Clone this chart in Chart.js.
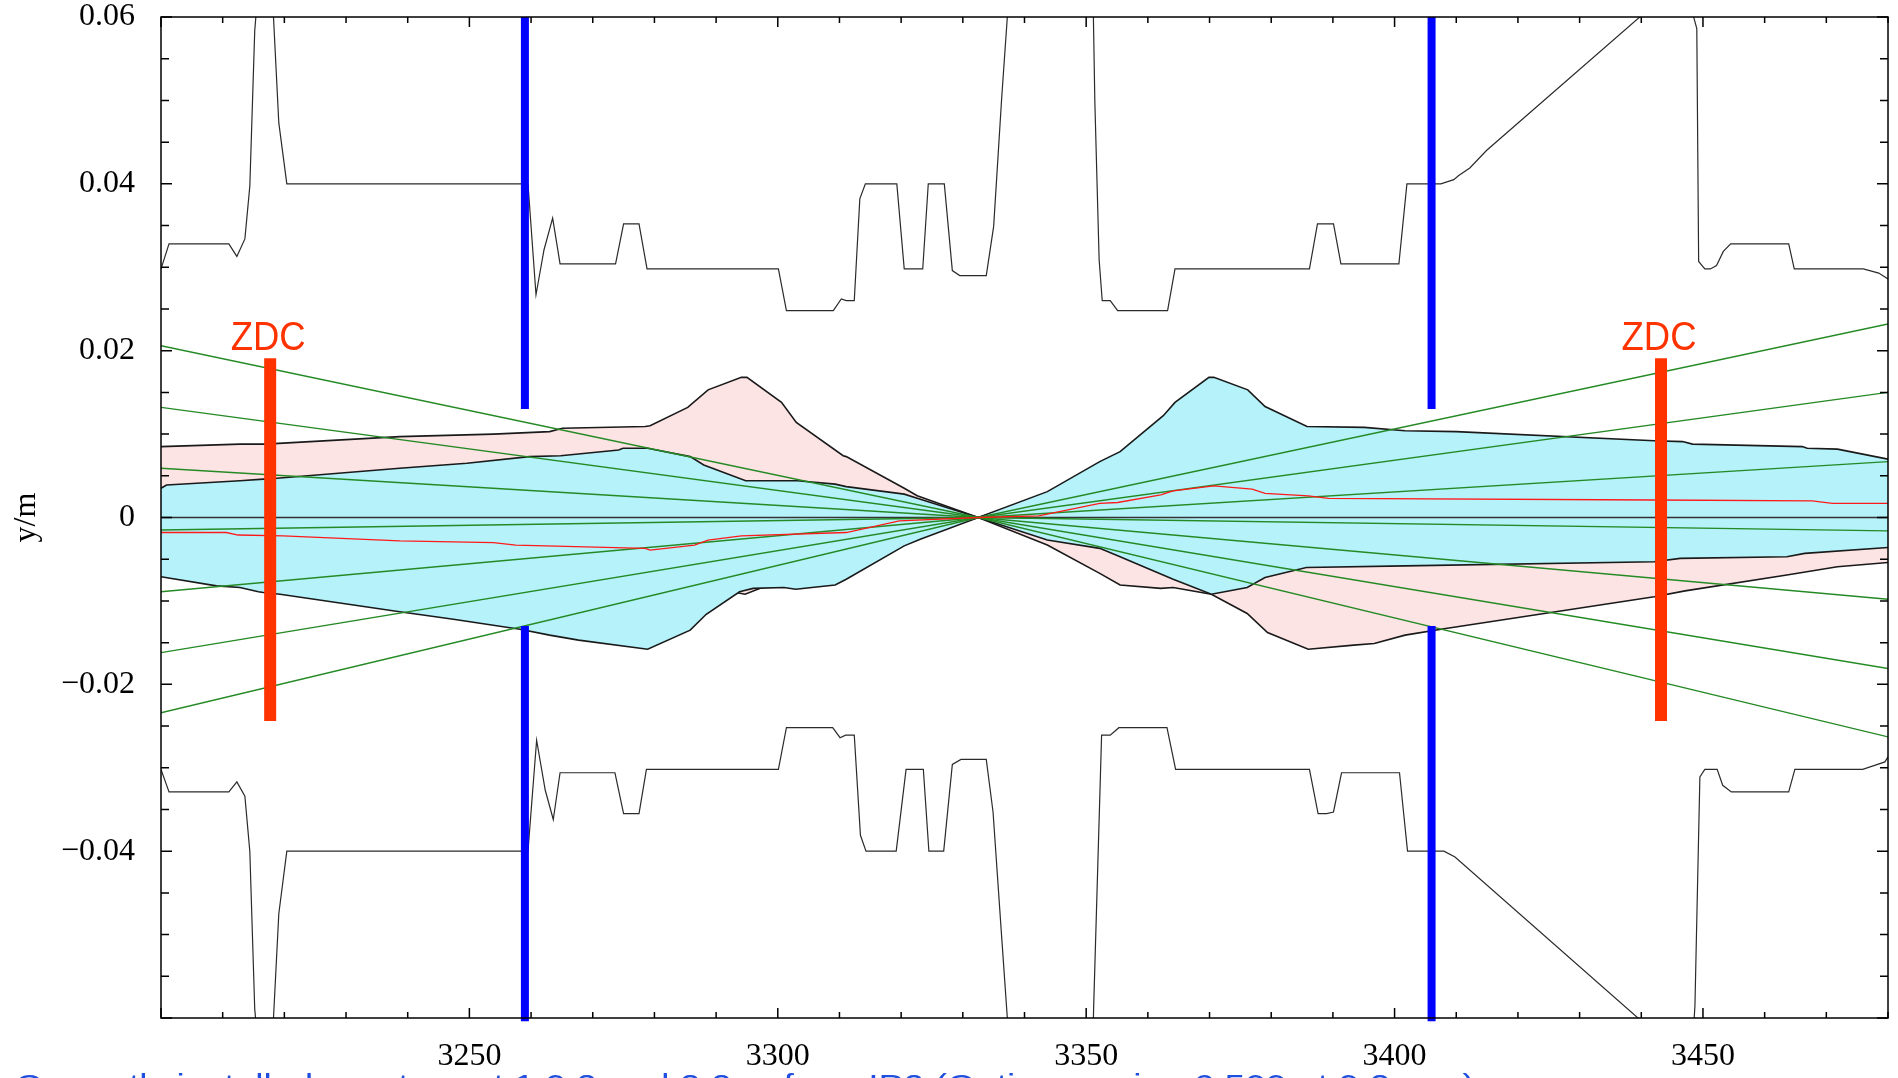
<!DOCTYPE html>
<html>
<head>
<meta charset="utf-8">
<title>IR2 vertical aperture</title>
<script src="https://cdn.jsdelivr.net/npm/chart.js@4.4.1/dist/chart.umd.min.js"></script>
<style>
    html, body { margin: 0; padding: 0; background: #fff; }
    #wrap { width: 1898px; height: 1078px; }
</style>
</head>
<body>
<div id="wrap"><canvas id="apertureChart" width="1898" height="1078"></canvas></div>
<script>
// s (m) along the ring vs vertical position y (m)
const sRange = [3200, 3480];
const yRange = [-0.06, 0.06];
const ipS = 3332.5;

const xTickLabels = [3250, 3300, 3350, 3400, 3450];
const yTickLabels = [0.06, 0.04, 0.02, 0, -0.02, -0.04];

// mechanical aperture [s, y]
const apertureUpper = [
    [3200.0, 0.0298], [3201.3, 0.0328], [3211.0, 0.0328], [3212.3, 0.0313], [3213.6, 0.0334],
    [3214.4, 0.0397], [3215.2, 0.0584], [3215.6, 0.0620], [3218.1, 0.0620], [3219.1, 0.0473],
    [3220.4, 0.0400], [3259.5, 0.0400], [3260.8, 0.0267], [3262.1, 0.0321], [3263.5, 0.0359],
    [3264.7, 0.0304], [3273.7, 0.0304], [3275.0, 0.0352], [3277.5, 0.0352], [3278.8, 0.0298],
    [3300.1, 0.0298], [3301.4, 0.0248], [3309.0, 0.0248], [3310.3, 0.0262], [3311.1, 0.0260],
    [3312.4, 0.0260], [3313.3, 0.0382], [3314.2, 0.0400], [3319.3, 0.0400], [3320.5, 0.0298],
    [3323.5, 0.0298], [3324.4, 0.0400], [3327.0, 0.0400], [3328.3, 0.0296], [3329.5, 0.0290],
    [3333.8, 0.0290], [3335.0, 0.0349], [3336.3, 0.0503], [3337.5, 0.0630], [3351.1, 0.0630],
    [3351.4, 0.0500], [3352.1, 0.0309], [3352.6, 0.0260], [3353.9, 0.0260], [3355.1, 0.0248],
    [3363.2, 0.0248], [3364.4, 0.0298], [3386.2, 0.0298], [3387.5, 0.0352], [3390.1, 0.0352],
    [3391.3, 0.0304], [3400.7, 0.0304], [3402.0, 0.0400], [3407.5, 0.0400], [3409.6, 0.0405],
    [3410.4, 0.0410], [3412.2, 0.0419], [3414.9, 0.0440], [3441.0, 0.0608], [3448.2, 0.0608],
    [3449.0, 0.0586], [3449.3, 0.0307], [3450.3, 0.0298], [3451.2, 0.0298], [3452.2, 0.0302],
    [3453.3, 0.0319], [3454.5, 0.0328], [3463.9, 0.0328], [3464.8, 0.0298], [3476.0, 0.0298],
    [3478.5, 0.0293], [3480.0, 0.0286]
];
const apertureLower = [
    [3200.0, -0.0302], [3201.3, -0.0329], [3211.0, -0.0329], [3212.3, -0.0317], [3213.6, -0.0334],
    [3214.4, -0.0400], [3215.2, -0.0590], [3215.6, -0.0620], [3218.1, -0.0620], [3219.1, -0.0475],
    [3220.4, -0.0400], [3259.5, -0.0400], [3260.9, -0.0267], [3262.3, -0.0327], [3263.6, -0.0362],
    [3264.7, -0.0306], [3273.6, -0.0306], [3275.0, -0.0355], [3277.5, -0.0355], [3278.7, -0.0302],
    [3300.1, -0.0302], [3301.4, -0.0252], [3308.9, -0.0252], [3310.1, -0.0264], [3311.0, -0.0261],
    [3312.4, -0.0261], [3313.4, -0.0381], [3314.3, -0.0400], [3319.2, -0.0400], [3320.8, -0.0302],
    [3323.6, -0.0302], [3324.5, -0.0400], [3326.9, -0.0400], [3328.3, -0.0296], [3329.7, -0.0290],
    [3333.8, -0.0290], [3334.9, -0.0353], [3336.3, -0.0503], [3337.5, -0.0630], [3351.1, -0.0630],
    [3351.2, -0.0590], [3352.5, -0.0261], [3353.9, -0.0261], [3355.3, -0.0252], [3363.1, -0.0252],
    [3364.5, -0.0302], [3386.2, -0.0302], [3387.6, -0.0355], [3389.0, -0.0355], [3390.1, -0.0353],
    [3391.4, -0.0306], [3400.8, -0.0306], [3402.1, -0.0400], [3408.0, -0.0400], [3409.8, -0.0407],
    [3441.0, -0.0610], [3448.5, -0.0610], [3448.7, -0.0585], [3449.5, -0.0311], [3450.3, -0.0302],
    [3452.3, -0.0302], [3453.2, -0.0321], [3454.6, -0.0329], [3463.9, -0.0329], [3464.9, -0.0302],
    [3475.9, -0.0302], [3479.5, -0.0293], [3480.0, -0.0287]
];

// beam envelopes [s, y]
const pinkUpper = [
    [3200.0, 0.0085], [3212.8, 0.0088], [3216.9, 0.0088], [3238.7, 0.0097], [3253.9, 0.0100],
    [3263.0, 0.0103], [3265.1, 0.0107], [3278.5, 0.0109], [3279.3, 0.0110], [3285.4, 0.0132],
    [3288.7, 0.0153], [3294.1, 0.0168], [3295.0, 0.0168], [3300.6, 0.0138], [3303.0, 0.0114],
    [3310.6, 0.0074], [3311.1, 0.0073], [3320.5, 0.0035], [3322.6, 0.0026], [3332.5, 0.0],
    [3342.4, 0.0023], [3344.5, 0.0028], [3353.9, 0.0037], [3355.7, 0.0040], [3361.8, 0.0044],
    [3370.2, 0.0044], [3377.0, 0.0063], [3379.2, 0.0073], [3386.1, 0.0083], [3390.8, 0.0081],
    [3405.3, 0.0073], [3426.3, 0.0059], [3448.4, 0.0046], [3464.1, 0.0039], [3480.0, 0.0033]
];
const pinkLower = [
    [3200.0, -0.0046], [3201.4, -0.0047], [3218.7, -0.0049], [3222.9, -0.0053], [3263.3, -0.0058],
    [3279.3, -0.0060], [3286.0, -0.0072], [3288.9, -0.0084], [3294.7, -0.0092], [3300.9, -0.0074],
    [3309.5, -0.0047], [3312.8, -0.0037], [3321.3, -0.0027], [3332.5, 0.0], [3343.7, -0.0033],
    [3352.2, -0.0067], [3355.5, -0.0081], [3362.1, -0.0085], [3364.1, -0.0084], [3370.3, -0.0092],
    [3376.1, -0.0115], [3379.4, -0.0138], [3386.0, -0.0158], [3393.4, -0.0153], [3396.7, -0.0151],
    [3401.7, -0.0141], [3408.3, -0.0133], [3442.1, -0.0095], [3447.1, -0.0088], [3463.6, -0.0069],
    [3471.8, -0.0059], [3480.0, -0.0054]
];
const cyanUpper = [
    [3200.0, 0.0035], [3200.9, 0.0039], [3212.8, 0.0044], [3216.6, 0.0046], [3218.8, 0.0047],
    [3238.7, 0.0059], [3249.6, 0.0065], [3259.7, 0.0073], [3264.8, 0.0074], [3274.2, 0.0081],
    [3274.9, 0.0083], [3278.9, 0.0083], [3285.8, 0.0073], [3288.0, 0.0063], [3294.8, 0.0044],
    [3303.2, 0.0044], [3309.3, 0.0040], [3311.1, 0.0037], [3320.5, 0.0028], [3322.6, 0.0023],
    [3332.5, 0.0], [3343.7, 0.0031], [3352.2, 0.0067], [3355.5, 0.0079], [3362.5, 0.0122],
    [3364.4, 0.0138], [3369.9, 0.0168], [3370.7, 0.0168], [3376.2, 0.0153], [3379.0, 0.0133],
    [3385.8, 0.0109], [3395.1, 0.0108], [3401.7, 0.0104], [3410.0, 0.0103], [3442.1, 0.0092],
    [3446.7, 0.0091], [3448.3, 0.0088], [3466.1, 0.0085], [3466.9, 0.0083], [3471.8, 0.0082],
    [3480.0, 0.0070]
];
const cyanLower = [
    [3200.0, -0.0071], [3209.0, -0.0082], [3212.8, -0.0084], [3215.8, -0.0089], [3216.6, -0.0090],
    [3219.3, -0.0092], [3238.7, -0.0113], [3247.4, -0.0122], [3258.2, -0.0134], [3263.0, -0.0141],
    [3267.7, -0.0147], [3278.9, -0.0158], [3285.8, -0.0135], [3288.4, -0.0116], [3293.8, -0.0089],
    [3296.0, -0.0085], [3301.0, -0.0084], [3302.9, -0.0086], [3309.3, -0.0081], [3311.1, -0.0074],
    [3320.5, -0.0034], [3323.1, -0.0026], [3332.5, 0.0], [3343.7, -0.0027], [3352.2, -0.0037],
    [3355.5, -0.0047], [3364.1, -0.0074], [3370.3, -0.0092], [3376.1, -0.0084], [3379.0, -0.0072],
    [3385.7, -0.0060], [3401.7, -0.0058], [3442.1, -0.0053], [3446.3, -0.0049], [3463.6, -0.0047],
    [3466.5, -0.0043], [3480.0, -0.0036]
];

// closed orbit [s, y]
const orbit = [
    [3200.0, -0.0018], [3210.6, -0.0018], [3212.5, -0.0021], [3219.8, -0.0022], [3238.7, -0.0028],
    [3253.9, -0.0030], [3257.5, -0.0033], [3278.5, -0.0037], [3279.3, -0.0039], [3286.5, -0.0033],
    [3288.7, -0.0027], [3294.1, -0.0022], [3311.1, -0.0018], [3319.7, -0.0004], [3332.5, 0.0],
    [3342.3, 0.0002], [3352.2, 0.0017], [3355.1, 0.0018], [3362.1, 0.0027], [3364.1, 0.0032],
    [3370.7, 0.0038], [3376.9, 0.0034], [3379.0, 0.0029], [3386.0, 0.0026], [3389.3, 0.0023],
    [3442.1, 0.0021], [3467.7, 0.0020], [3471.0, 0.0017], [3480.0, 0.0017]
];

// neutral cone rays from the IP: y at the left and right edges
const rayLeftY = [0.0206, 0.0132, 0.0059, -0.0015, -0.0089, -0.0162, -0.0234];
const rayRightY = [0.0232, 0.0150, 0.0067, -0.0016, -0.0098, -0.0181, -0.0263];

// collimator jaws and ZDC
const jawS = [3259.0, 3406.0];
const jawOpening = [0.013, -0.013];
const zdcS = [3217.7, 3443.2];
const zdcY = [0.0191, -0.0244];

const noteText = 'Currently installed aperture at 1.0.2 and 2.2 m from IP2 (Optics version 6.500 at 0.2 mm)';

const serif = '"Liberation Serif", "Times New Roman", serif';
const sans = '"Liberation Sans", Arial, sans-serif';
const zdcColor = '#ff3300';

const pts = arr => arr.map(p => ({ x: p[0], y: p[1] }));

function lineSet(data, color, width, order, extra) {
    return Object.assign({
        data: data,
        borderColor: color,
        borderWidth: width,
        pointRadius: 0,
        tension: 0,
        fill: false,
        order: order
    }, extra || {});
}

const datasets = [
    lineSet(pts(pinkUpper), '#1a1a1a', 1.6, 20, { fill: { target: 1 }, backgroundColor: '#fde4e4' }),
    lineSet(pts(pinkLower), '#1a1a1a', 1.6, 19),
    lineSet(pts(cyanUpper), '#1a1a1a', 1.6, 18, { fill: { target: 3 }, backgroundColor: '#b5f2fa' }),
    lineSet(pts(cyanLower), '#1a1a1a', 1.6, 17),
    lineSet([{ x: sRange[0], y: 0 }, { x: sRange[1], y: 0 }], '#333333', 1.3, 16)
];

rayLeftY.forEach((yl, i) => {
    datasets.push(lineSet([
        { x: sRange[0], y: yl }, { x: ipS, y: 0 }, { x: sRange[1], y: rayRightY[i] }
    ], '#258a25', 1.4, 15));
});

datasets.push(lineSet(pts(orbit), '#ff1a1a', 1.3, 14));
datasets.push(lineSet(pts(apertureUpper), '#2b2b2b', 1.2, 13));
datasets.push(lineSet(pts(apertureLower), '#2b2b2b', 1.2, 13));

jawS.forEach(s => {
    datasets.push(lineSet([{ x: s, y: yRange[1] }, { x: s, y: jawOpening[0] }], '#0000ff', 8, 12));
    datasets.push(lineSet([{ x: s, y: jawOpening[1] }, { x: s, y: yRange[0] - 0.0004 }], '#0000ff', 8, 12, { clip: false }));
});

zdcS.forEach(s => {
    datasets.push(lineSet([{ x: s, y: zdcY[0] }, { x: s, y: zdcY[1] }], zdcColor, 12, 11));
});

// inward ticks on all four sides, frame, ZDC captions
const frameTicks = {
    id: 'frameTicks',
    afterDatasetsDraw(chart) {
        const { ctx, chartArea: a, scales } = chart;
        const x = scales.x, y = scales.y;
        ctx.save();
        ctx.strokeStyle = '#000';
        ctx.lineWidth = 1.5;
        ctx.beginPath();
        for (let s = sRange[0]; s <= sRange[1]; s += 10) {
            const px = x.getPixelForValue(s);
            const len = s % 50 === 0 ? 10 : 6;
            ctx.moveTo(px, a.bottom);
            ctx.lineTo(px, a.bottom - len);
            ctx.moveTo(px, a.top);
            ctx.lineTo(px, a.top + len);
        }
        for (let i = -12; i <= 12; i++) {
            const py = y.getPixelForValue(i * 0.005);
            const len = i % 4 === 0 ? 11 : 8;
            ctx.moveTo(a.left, py);
            ctx.lineTo(a.left + len, py);
            ctx.moveTo(a.right, py);
            ctx.lineTo(a.right - len, py);
        }
        ctx.stroke();
        ctx.strokeRect(a.left, a.top, a.right - a.left, a.bottom - a.top);

        ctx.fillStyle = zdcColor;
        ctx.font = '41px ' + sans;
        ctx.textAlign = 'center';
        ctx.textBaseline = 'alphabetic';
        zdcS.forEach(s => {
            ctx.save();
            ctx.translate(x.getPixelForValue(s) - 2, y.getPixelForValue(zdcY[0]) - 8);
            ctx.scale(0.89, 1);
            ctx.fillText('ZDC', 0, 0);
            ctx.restore();
        });
        ctx.restore();
    },
    afterDraw(chart) {
        const ctx = chart.ctx;
        ctx.save();
        ctx.font = '30px ' + sans;
        ctx.fillStyle = '#1f4fe0';
        ctx.textAlign = 'left';
        ctx.textBaseline = 'alphabetic';
        const w = ctx.measureText(noteText).width;
        ctx.translate(15, 1095);
        ctx.scale(1460 / w, 1);
        ctx.fillText(noteText, 0, 0);
        ctx.restore();
    }
};

const tickFont = { family: serif, size: 32, lineHeight: 1 };

new Chart(document.getElementById('apertureChart'), {
    type: 'line',
    data: { datasets: datasets },
    options: {
        responsive: false,
        devicePixelRatio: 1,
        animation: false,
        layout: { padding: { top: 17, right: 10, left: 0, bottom: 0 } },
        plugins: {
            legend: { display: false },
            tooltip: { enabled: false },
            filler: { drawTime: 'beforeDatasetDraw' }
        },
        scales: {
            x: {
                type: 'linear',
                min: sRange[0],
                max: sRange[1],
                grid: { display: false, drawTicks: false },
                border: { display: false },
                afterBuildTicks: scale => { scale.ticks = xTickLabels.map(v => ({ value: v })); },
                afterFit: scale => {
                    scale.height = 60;
                    scale.paddingLeft = 0;
                    scale.paddingRight = 0;
                },
                ticks: {
                    autoSkip: false,
                    maxRotation: 0,
                    padding: 23,
                    color: '#000',
                    font: tickFont,
                    callback: v => String(v)
                }
            },
            y: {
                type: 'linear',
                min: yRange[0],
                max: yRange[1],
                grid: { display: false, drawTicks: false },
                border: { display: false },
                afterBuildTicks: scale => { scale.ticks = yTickLabels.map(v => ({ value: v })); },
                afterFit: scale => {
                    scale.width = 161;
                    scale.paddingTop = 0;
                    scale.paddingBottom = 0;
                },
                title: {
                    display: true,
                    text: 'y/m',
                    color: '#000',
                    font: { family: serif, size: 32, lineHeight: 1 },
                    padding: { top: 11, bottom: 0 }
                },
                ticks: {
                    autoSkip: false,
                    padding: 26,
                    color: '#000',
                    font: tickFont,
                    callback: v => Math.abs(v) < 1e-9 ? '0' : (v < 0 ? '\u2212' : '') + Math.abs(v).toFixed(2)
                }
            }
        }
    },
    plugins: [frameTicks]
});
</script>
</body>
</html>
